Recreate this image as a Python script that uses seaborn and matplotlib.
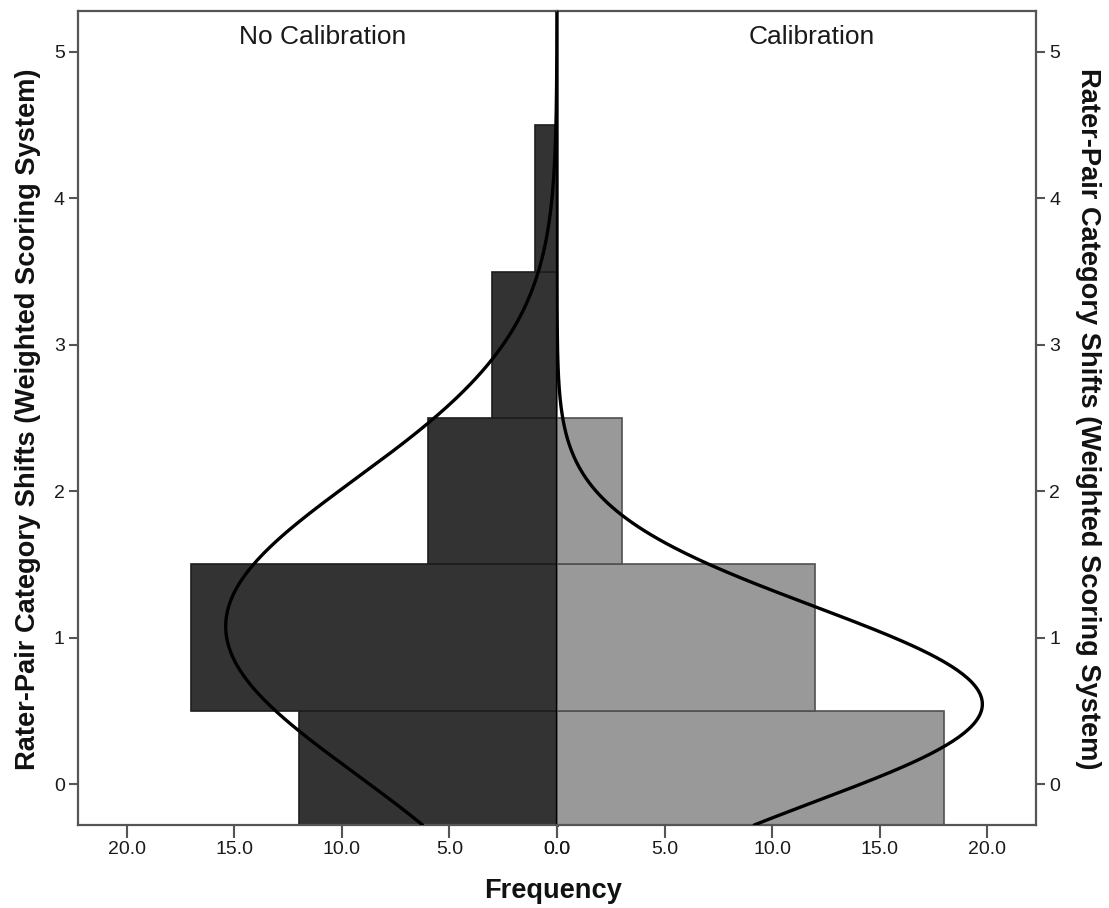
import numpy as np
import pandas as pd
import matplotlib
matplotlib.use("Agg")
import matplotlib.pyplot as plt
import seaborn as sns

# ---- data ----
shift_values = [0, 1, 2, 3, 4]
no_calibration_counts = [12, 17, 6, 3, 1]
calibration_counts = [18, 12, 3, 0, 0]
group_labels = ["No Calibration", "Calibration"]
x_tick_values = [0, 5, 10, 15, 20]
x_tick_labels = ["0.0", "5.0", "10.0", "15.0", "20.0"]
y_tick_values = [0, 1, 2, 3, 4, 5]

sns.set_style("white")
plt.rcParams['font.family'] = ['Liberation Sans', 'DejaVu Sans']

W, H = 1109, 908
fig = plt.figure(figsize=(W / 100, H / 100), dpi=100)
left_px, mid_px, right_px = 78, 557, 1036
top_px, bot_px = 11, 825
axL = fig.add_axes([left_px / W, 1 - bot_px / H, (mid_px - left_px) / W, (bot_px - top_px) / H])
axR = fig.add_axes([mid_px / W, 1 - bot_px / H, (right_px - mid_px) / W, (bot_px - top_px) / H])

XMAX = 22.27
YLIM = (-0.28, 5.28)
ys = np.linspace(YLIM[0], YLIM[1], 400)


def normal_curve(counts):
    vals = np.repeat(shift_values, counts).astype(float)
    n = len(vals)
    mu = vals.mean()
    sd = vals.std(ddof=1)
    return n * np.exp(-0.5 * ((ys - mu) / sd) ** 2) / (sd * np.sqrt(2 * np.pi))


frame_col = "#555555"
for ax, counts, col, ecol, label, lx in [
    (axL, no_calibration_counts, "#333333", "#1e1e1e", group_labels[0], 10.88),
    (axR, calibration_counts, "#999999", "#505050", group_labels[1], 11.86),
]:
    df = pd.DataFrame({"shift": shift_values, "count": counts})
    sns.barplot(data=df, x="count", y="shift", orient="y", native_scale=True,
                width=1.0, color=col, saturation=1, edgecolor=ecol,
                linewidth=1.2, ax=ax, zorder=2)
    cdf = pd.DataFrame({"y": ys, "d": normal_curve(counts)})
    sns.lineplot(data=cdf, x="d", y="y", sort=False, estimator=None,
                 color="black", linewidth=2.4, ax=ax, zorder=4)
    ax.set_ylim(*YLIM)
    ax.set_xticks(x_tick_values)
    ax.set_xticklabels(x_tick_labels)
    ax.set_yticks(y_tick_values)
    ax.set_xlabel("")
    ax.set_ylabel("")
    ax.text(lx, 5.10, label, ha="center", va="center", fontsize=19, color="#1a1a1a")
    ax.tick_params(axis="x", direction="out", length=9.5, width=1.5, color=frame_col,
                   labelsize=14, pad=2, labelcolor="#1a1a1a", bottom=True)
    for s in ax.spines.values():
        s.set_color(frame_col)
        s.set_linewidth(1.6)

axL.set_xlim(XMAX, 0)
axR.set_xlim(0, XMAX)
axL.spines["right"].set_visible(False)
axR.spines["left"].set_visible(False)

axL.tick_params(axis="y", left=True, right=False, direction="out", length=6.5, width=1.5,
                color=frame_col, labelsize=14, pad=3, labelcolor="#1a1a1a")
axR.tick_params(axis="y", left=False, right=True, labelleft=False, labelright=True,
                direction="out", length=6.5, width=1.5, color=frame_col, labelsize=14,
                pad=3, labelcolor="#1a1a1a")

axL.axvline(0, color="black", linewidth=2.4, zorder=5, clip_on=False)

ylabel = "Rater-Pair Category Shifts (Weighted Scoring System)"
fig.text(28 / W, 1 - 419 / H, ylabel, rotation=90, ha="center", va="center",
         fontsize=19.6, fontweight="bold", color="#111111")
fig.text(1088 / W, 1 - 419 / H, ylabel, rotation=270, ha="center", va="center",
         fontsize=19.6, fontweight="bold", color="#111111")
fig.text(553 / W, 1 - 891 / H, "Frequency", ha="center", va="center",
         fontsize=19.6, fontweight="bold", color="#111111")

fig.savefig("out.png", dpi=100)
